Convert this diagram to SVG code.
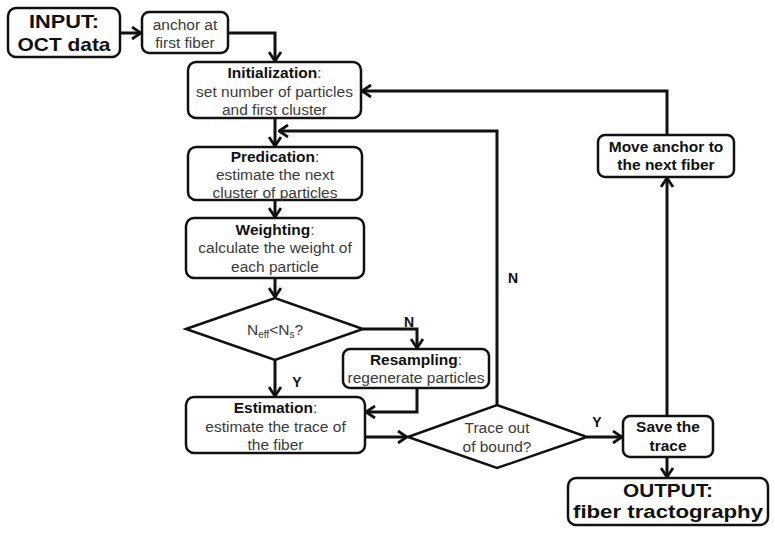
<svg xmlns="http://www.w3.org/2000/svg" width="775" height="533" viewBox="0 0 775 533">
<defs>
<style>
.box{fill:#fff;stroke:#111;stroke-width:2.5}
.t{font-family:"Liberation Sans",Arial,sans-serif;font-size:15.5px;fill:#3a3a3a;text-anchor:middle}
.b{font-weight:bold;fill:#111}
.big{font-family:"Liberation Sans",Arial,sans-serif;font-size:19px;font-weight:bold;fill:#111;text-anchor:middle}
.lbl{font-family:"Liberation Sans",Arial,sans-serif;font-size:14px;font-weight:bold;fill:#111;text-anchor:middle}
.sub{font-size:10px}
.c{fill:none;stroke:#111;stroke-width:3;marker-end:url(#ah)}
</style>
<marker id="ah" viewBox="0 0 12 14" refX="10.5" refY="7" markerWidth="12" markerHeight="14" markerUnits="userSpaceOnUse" orient="auto">
<path d="M1.5,1 L10.5,7 L1.5,13" fill="none" stroke="#111" stroke-width="2.8"/>
</marker>
</defs>
<rect width="775" height="533" fill="#fff"/>
<g id="connectors">
<path class="c" d="M120,33 H141"/>
<path class="c" d="M228,33 H275 V61"/>
<path class="c" d="M275,118 V146"/>
<path class="c" d="M667,135 V91 H362"/>
<path class="c" d="M497,405 V131 H279"/>
<path class="c" d="M275,200 V217"/>
<path class="c" d="M275,278 V297"/>
<path class="c" d="M363,329 H417 V348"/>
<path class="c" d="M275,360 V396"/>
<path class="c" d="M417,388 V412 H366"/>
<path class="c" d="M365,437 H407"/>
<path class="c" d="M587,437 H622"/>
<path class="c" d="M667,457 V477"/>
<path class="c" d="M667,416 V178"/>
</g>
<g id="input">
<rect class="box" x="8" y="8" width="112" height="49" rx="8"/>
<text class="big" x="64" y="28" textLength="70" lengthAdjust="spacingAndGlyphs">INPUT:</text>
<text class="big" x="64" y="51" textLength="93" lengthAdjust="spacingAndGlyphs">OCT data</text>
</g>
<g id="anchor">
<rect class="box" x="142" y="12" width="86" height="41" rx="7"/>
<text class="t" x="185" y="30">anchor at</text>
<text class="t" x="185" y="48">first fiber</text>
</g>
<g id="initialization">
<rect class="box" x="188" y="62" width="173" height="56" rx="8"/>
<text class="t" x="274.5" y="78"><tspan class="b">Initialization</tspan>:</text>
<text class="t" x="274.5" y="97">set number of particles</text>
<text class="t" x="274.5" y="115">and first cluster</text>
</g>
<g id="predication">
<rect class="box" x="188" y="147" width="174" height="53" rx="8"/>
<text class="t" x="275" y="162"><tspan class="b">Predication</tspan>:</text>
<text class="t" x="275" y="180">estimate the next</text>
<text class="t" x="275" y="198">cluster of particles</text>
</g>
<g id="weighting">
<rect class="box" x="186" y="218" width="178" height="60" rx="8"/>
<text class="t" x="275" y="235"><tspan class="b">Weighting</tspan>:</text>
<text class="t" x="275" y="253">calculate the weight of</text>
<text class="t" x="275" y="272">each particle</text>
</g>
<g id="neff-decision">
<polygon class="box" points="186,329 275,298 363,329 275,360"/>
<text class="t" x="275" y="335">N<tspan class="sub" dy="3">eff</tspan><tspan dy="-3">&lt;N</tspan><tspan class="sub" dy="3">s</tspan><tspan dy="-3">?</tspan></text>
<text class="lbl" x="409" y="327">N</text>
<text class="lbl" x="297" y="387">Y</text>
</g>
<g id="resampling">
<rect class="box" x="343" y="349" width="146" height="39" rx="7"/>
<text class="t" x="416" y="365"><tspan class="b">Resampling</tspan>:</text>
<text class="t" x="416" y="383">regenerate particles</text>
</g>
<g id="estimation">
<rect class="box" x="186" y="397" width="179" height="56" rx="8"/>
<text class="t" x="275.5" y="413"><tspan class="b">Estimation</tspan>:</text>
<text class="t" x="275.5" y="432">estimate the trace of</text>
<text class="t" x="275.5" y="450">the fiber</text>
</g>
<g id="bound-decision">
<polygon class="box" points="408,437 497,405 587,437 497,468"/>
<text class="t" x="497" y="433">Trace out</text>
<text class="t" x="497" y="452">of bound?</text>
<text class="lbl" x="513" y="283">N</text>
<text class="lbl" x="597" y="427">Y</text>
</g>
<g id="save">
<rect class="box" x="623" y="416" width="90" height="41" rx="7"/>
<text class="t b" x="668" y="432">Save the</text>
<text class="t b" x="668" y="451">trace</text>
</g>
<g id="move">
<rect class="box" x="598" y="135" width="136" height="42" rx="7"/>
<text class="t b" x="666" y="152">Move anchor to</text>
<text class="t b" x="666" y="170">the next fiber</text>
</g>
<g id="output">
<rect class="box" x="568" y="478" width="200" height="47" rx="8"/>
<text class="big" x="668" y="497" textLength="90" lengthAdjust="spacingAndGlyphs">OUTPUT:</text>
<text class="big" x="668" y="518" textLength="190" lengthAdjust="spacingAndGlyphs">fiber tractography</text>
</g>
</svg>
